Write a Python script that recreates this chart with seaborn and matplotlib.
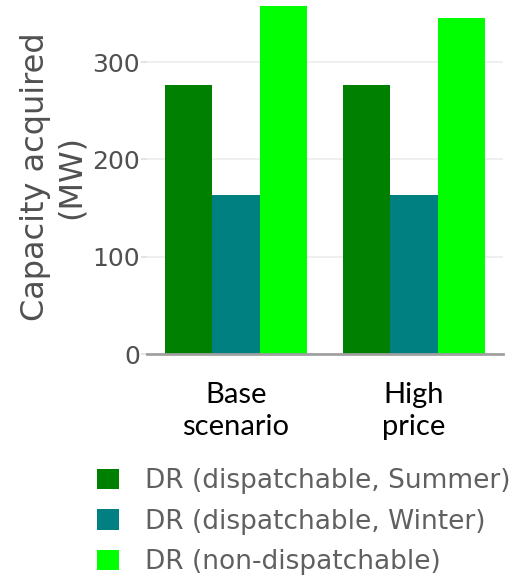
import matplotlib
matplotlib.use("Agg")
import matplotlib.pyplot as plt
import seaborn as sns
import pandas as pd
from matplotlib.patches import Patch

# Scenario categories and capacity acquired per DR resource (MW)
scenarios = ["Base\nscenario", "High\nprice"]
resources = ["DR (dispatchable, Summer)", "DR (dispatchable, Winter)", "DR (non-dispatchable)"]
summer = [277, 277]
winter = [164, 164]
non_dispatchable = [358, 346]
colors = ["#008000", "#008080", "#00ff00"]

rows = []
for res, vals in zip(resources, [summer, winter, non_dispatchable]):
    for sc, v in zip(scenarios, vals):
        rows.append({"scenario": sc, "resource": res, "capacity": v})
df = pd.DataFrame(rows)

sns.set_theme(style="white")
plt.rcParams["font.family"] = ["DejaVu Sans"]

fig = plt.figure(figsize=(5.23, 5.78), dpi=100)
ax = fig.add_axes([147 / 523, 1 - 354 / 578, 356 / 523, 354 / 578])

sns.barplot(data=df, x="scenario", y="capacity", hue="resource",
            palette=colors, saturation=1, width=0.8, ax=ax,
            errorbar=None, linewidth=0, legend=False)

ax.set_xlim(-0.5, 1.5)
ax.set_ylim(0, 364)
ax.set_yticks([0, 100, 200, 300])
ax.yaxis.grid(True, color="#ececec", linewidth=1.2)
ax.set_axisbelow(True)
for side in ["top", "right", "left"]:
    ax.spines[side].set_visible(False)
ax.spines["bottom"].set_color("#a0a0a0")
ax.spines["bottom"].set_linewidth(2)

ax.tick_params(axis="y", labelsize=18, labelcolor="#505050", length=4,
               color="#e0e0e0", pad=1, left=True)
ax.tick_params(axis="x", length=0, pad=20)
for lbl in ax.get_xticklabels():
    lbl.set_family(["Lato", "DejaVu Sans"])
    lbl.set_fontsize(21)
    lbl.set_color("black")
    lbl.set_linespacing(1.3)

ax.set_xlabel("")
ax.set_ylabel("Capacity acquired\n(MW)", fontsize=23, color="#505050",
              linespacing=1.2, labelpad=4)

handles = [Patch(facecolor=c, edgecolor="none") for c in colors]
leg = fig.legend(handles, resources, loc="upper left",
                 bbox_to_anchor=(97 / 523, 1 - 468 / 578),
                 frameon=False, fontsize=19, labelcolor="#606060",
                 handlelength=0.82, handleheight=0.82, handletextpad=1.0,
                 labelspacing=0.55, borderpad=0, borderaxespad=0)

fig.savefig("out.png", dpi=100)
